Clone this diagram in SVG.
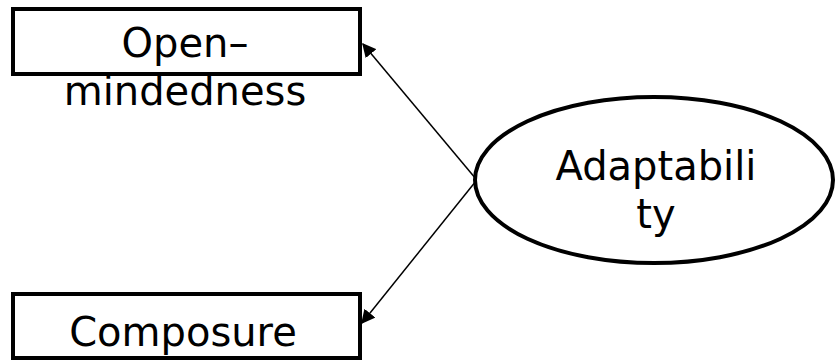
<svg xmlns="http://www.w3.org/2000/svg" width="836" height="362" viewBox="0 0 836 362">
<style>
.box{fill:#fff;stroke:#000;stroke-width:4}
.ell{fill:#fff;stroke:#000;stroke-width:4}
.lbl{font-family:"DejaVu Sans",sans-serif;font-size:40px;fill:#000;text-anchor:middle}
.con{stroke:#000;stroke-width:1.5;fill:none}
</style>
<defs>
<marker id="ah" viewBox="0 0 10 10" refX="9" refY="5" markerWidth="14" markerHeight="14" markerUnits="userSpaceOnUse" orient="auto">
<path d="M0,0 L10,5 L0,10 z" fill="#000"/>
</marker>
</defs>
<g id="connectors">
<line class="con" x1="476" y1="179" x2="363" y2="44" marker-end="url(#ah)"/>
<line class="con" x1="476" y1="181" x2="362" y2="323" marker-end="url(#ah)"/>
</g>
<g id="open-mindedness">
<rect class="box" x="13" y="9" width="347" height="65"/>
<text class="lbl" x="185" y="57">Open–</text>
<text class="lbl" x="185" y="105">mindedness</text>
</g>
<g id="composure">
<rect class="box" x="13" y="294" width="347" height="64"/>
<text class="lbl" x="183" y="346">Composure</text>
</g>
<g id="adaptability">
<ellipse class="ell" cx="654" cy="180" rx="179" ry="83"/>
<text class="lbl" x="656" y="180">Adaptabili</text>
<text class="lbl" x="656" y="228">ty</text>
</g>
</svg>
